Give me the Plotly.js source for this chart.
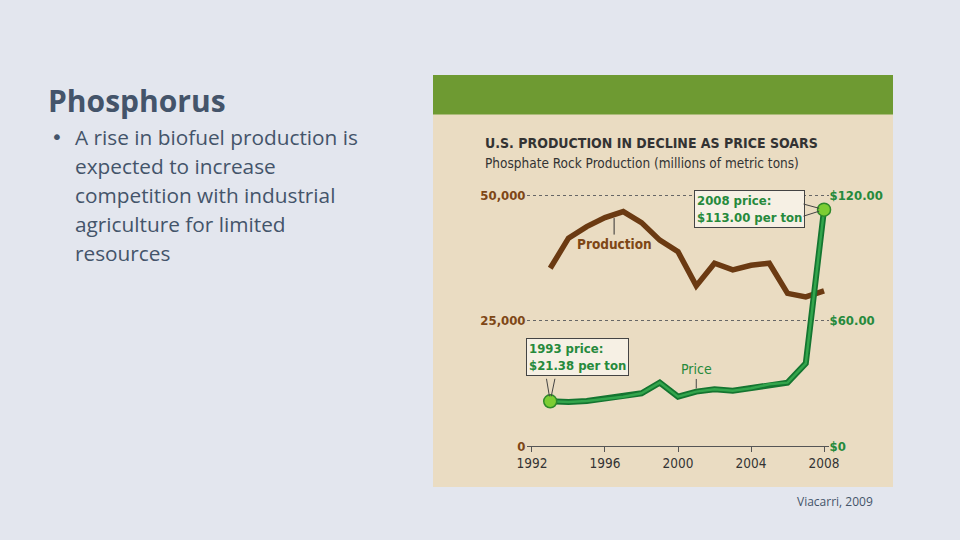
<!DOCTYPE html>
<html>
<head>
<meta charset="utf-8">
<script src="https://cdn.plot.ly/plotly-3.0.1.min.js"></script>
<style>
html,body{margin:0;padding:0;background:#e3e6ee;}
#chart{width:960px;height:540px;}
</style>
</head>
<body>
<div id="chart"></div>
<script>
// ---- data ----
const years = [1993, 1994, 1995, 1996, 1997, 1998, 1999, 2000, 2001, 2002, 2003, 2004, 2005, 2006, 2007, 2008];
const production = [35400, 41400, 43700, 45500, 46700, 44500, 41000, 38700, 31900, 36400, 35100, 36000, 36400, 30400, 29700, 30900];
const price = [21.38, 21.0, 21.5, 22.5, 23.6, 25.2, 30.3, 23.6, 26.0, 27.1, 26.4, 27.6, 29.5, 30.3, 39.5, 113.00];
const yearTicks = [1992, 1996, 2000, 2004, 2008];
const prodTicks = [0, 25000, 50000];
const prodTickText = ["0", "25,000", "50,000"];
const priceTicks = [0, 60, 120];
const priceTickText = ["$0", "$60.00", "$120.00"];
const bulletLines = [
  "A rise in biofuel production is",
  "expected to increase",
  "competition with industrial",
  "agriculture for limited",
  "resources"
];

// ---- helpers ----
const W = 960, H = 540;
const px = x => x / W;
const py = y => 1 - y / H;
const NARROW = "Liberation Sans Narrow, DejaVu Sans Condensed, Arial Narrow, sans-serif";
const SLIDE = "Open Sans, Lato, Calibri, sans-serif";
const BROWN = "#6b3a12";
const BROWN_TXT = "#7e4716";
const GREEN_TXT = "#268a3c";
const SLATE = "#44546a";

// vertical scale: 0 -> 446px, 50000 -> 195px (extend range slightly so top gridline shows)
const Y0PX = 446, Y50PX = 195;
const PROD_MAX = 51000;
const topPx = Y0PX - (Y0PX - Y50PX) * PROD_MAX / 50000;
const PRICE_MAX = PROD_MAX * 120 / 50000;

const first = 0, last = years.length - 1;

const traces = [
  {
    x: years, y: production, type: "scatter", mode: "lines", yaxis: "y",
    line: {color: BROWN, width: 5.5}, hoverinfo: "skip", cliponaxis: false
  },
  {
    x: years, y: price, type: "scatter", mode: "lines", yaxis: "y2",
    line: {color: "#147530", width: 6}, hoverinfo: "skip", cliponaxis: false
  },
  {
    x: years, y: price, type: "scatter", mode: "lines", yaxis: "y2",
    line: {color: "#33a54c", width: 2.5}, hoverinfo: "skip", cliponaxis: false
  },
  {
    x: [years[first], years[last]], y: [price[first], price[last]],
    type: "scatter", mode: "markers", yaxis: "y2",
    marker: {size: 13, color: "#7ccd34", line: {color: "#2e8a2a", width: 1.5}},
    hoverinfo: "skip", cliponaxis: false
  }
];

const calloutBase = {
  xref: "x", yref: "y2", align: "left", showarrow: true,
  arrowhead: 0, arrowwidth: 1, arrowcolor: "rgba(0,0,0,0)",
  bgcolor: "#f6f0e4", bordercolor: "#444", borderwidth: 1, borderpad: 2,
  font: {family: NARROW, size: 13, color: GREEN_TXT}
};
const tail = (xv, yv, ax, ay) => ({
  xref: "x", yref: "y2", x: xv, y: yv, ax: ax, ay: ay, text: "", showarrow: true,
  arrowhead: 0, arrowwidth: 1, arrowcolor: "#444", standoff: 5
});

const annotations = [
  {xref: "paper", yref: "paper", x: px(46), y: py(101), xanchor: "left", yanchor: "middle",
   text: "<b>Phosphorus</b>", showarrow: false, font: {family: SLIDE, size: 30, color: SLATE}},
  {xref: "paper", yref: "paper", x: px(49), y: py(137), xanchor: "left", yanchor: "middle",
   text: "•", showarrow: false, font: {family: "DejaVu Sans, sans-serif", size: 20, color: SLATE}},
  {xref: "paper", yref: "paper", x: px(875), y: py(501), xanchor: "right", yanchor: "middle",
   text: "Viacarri, 2009", showarrow: false, font: {family: SLIDE, size: 12, color: SLATE}},
  {xref: "paper", yref: "paper", x: px(483), y: py(143), xanchor: "left", yanchor: "middle",
   text: "<b>U.S. PRODUCTION IN DECLINE AS PRICE SOARS</b>", showarrow: false,
   font: {family: NARROW, size: 14, color: "#333333"}},
  {xref: "paper", yref: "paper", x: px(483), y: py(163), xanchor: "left", yanchor: "middle",
   text: "Phosphate Rock Production (millions of metric tons)", showarrow: false,
   font: {family: NARROW, size: 13.5, color: "#333333"}},
  // callouts
  Object.assign({}, calloutBase, {x: years[last], y: price[last], ax: -75, ay: -1,
   text: "<b>2008 price:<br>$113.00 per ton</b>"}),
  tail(years[last], price[last], -22, -6),
  tail(years[last], price[last], -22, 7),
  Object.assign({}, calloutBase, {x: years[first], y: price[first], ax: 27, ay: -44,
   text: "<b>1993 price:<br>$21.38 per ton</b>"}),
  tail(years[first], price[first], -4, -24),
  tail(years[first], price[first], 5, -24),
  {xref: "x", yref: "y", x: 1996.5, y: 45400, ax: 0, ay: 26,
   text: "<b>Production</b>", showarrow: true, arrowhead: 0, arrowwidth: 1, arrowcolor: "#333",
   font: {family: NARROW, size: 13.5, color: BROWN_TXT}},
  {xref: "x", yref: "y2", x: 2001, y: 27.5, ax: 0, ay: -19,
   text: "Price", showarrow: true, arrowhead: 0, arrowwidth: 1, arrowcolor: "#444",
   font: {family: NARROW, size: 14, color: GREEN_TXT}}
];

bulletLines.forEach((t, i) => {
  annotations.push({xref: "paper", yref: "paper", x: px(73), y: py(137 + 29 * i),
    xanchor: "left", yanchor: "middle", text: t, showarrow: false,
    font: {family: SLIDE, size: 20.8, color: SLATE}});
});

const shapes = [
  {type: "rect", xref: "paper", yref: "paper", x0: px(433), x1: px(893), y0: py(487), y1: py(75),
   fillcolor: "#eadcc2", line: {width: 0}, layer: "below"},
  {type: "rect", xref: "paper", yref: "paper", x0: px(433), x1: px(893), y0: py(114.5), y1: py(75),
   fillcolor: "#6e9a32", line: {width: 0}, layer: "below"}
];

const layout = {
  width: W, height: H, autosize: false,
  margin: {l: 0, r: 0, t: 0, b: 0},
  paper_bgcolor: "#e3e6ee",
  plot_bgcolor: "rgba(0,0,0,0)",
  showlegend: false,
  xaxis: {
    domain: [px(526.5), px(828.6)], range: [1991.7, 2008.25],
    tickvals: yearTicks, ticktext: yearTicks.map(String),
    ticks: "outside", ticklen: 5, tickcolor: "#555", tickwidth: 1,
    showline: true, linecolor: "#555", linewidth: 1,
    showgrid: false, zeroline: false,
    tickfont: {family: NARROW, size: 13.5, color: "#333"}
  },
  yaxis: {
    domain: [py(Y0PX), py(topPx)], range: [0, PROD_MAX],
    tickvals: prodTicks, ticktext: prodTickText,
    showgrid: true, gridcolor: "#666", griddash: "dot", gridwidth: 1,
    zeroline: false, showline: false, ticks: "",
    tickfont: {family: NARROW, size: 13, color: BROWN_TXT, weight: "bold"}
  },
  yaxis2: {
    domain: [py(Y0PX), py(topPx)], range: [0, PRICE_MAX], overlaying: "y", side: "right",
    tickvals: priceTicks, ticktext: priceTickText,
    showgrid: false, zeroline: false, showline: false, ticks: "",
    tickfont: {family: NARROW, size: 13, color: GREEN_TXT, weight: "bold"}
  },
  annotations: annotations,
  shapes: shapes
};

Plotly.newPlot("chart", traces, layout, {staticPlot: true, displayModeBar: false});
</script>
</body>
</html>
